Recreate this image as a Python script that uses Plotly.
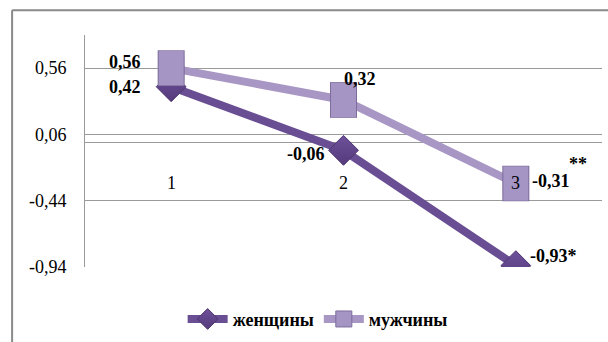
import plotly.graph_objects as go

categories = [1, 2, 3]
women = [0.42, -0.06, -0.93]
men = [0.56, 0.32, -0.31]
women_labels = ["0,42", "-0,06", "-0,93*"]
men_labels = ["0,56", "0,32", "-0,31"]
tick_vals = [-0.94, -0.44, 0.06, 0.56]
tick_text = ["-0,94", "-0,44", "0,06", "0,56"]
series_names = ["женщины", "мужчины"]

SERIF = "Liberation Serif"
C_W = "#6a4e93"
C_M = "#a897c4"

fig = go.Figure()
fig.add_trace(go.Scatter(
    x=categories, y=women, name=series_names[0], mode="lines+markers",
    line=dict(color=C_W, width=8),
    marker=dict(symbol="diamond", size=23, color="#6e519a",
                gradient=dict(type="vertical", color="#553a7c"),
                line=dict(color="#4e3670", width=1)),
))
fig.add_trace(go.Scatter(
    x=categories, y=men, name=series_names[1], mode="lines+markers",
    line=dict(color=C_M, width=8),
    marker=dict(symbol="square", size=25, color="#a595c4",
                line=dict(color="#7d6c9c", width=1)),
))
# tall rectangular body of the square markers (drawn as thick vertical strokes)
fig.add_trace(go.Scatter(
    x=categories, y=men, mode="markers", showlegend=False, hoverinfo="skip",
    marker=dict(symbol="line-ns", size=25.5, color="#7d6c9c",
                line=dict(color="#7d6c9c", width=27)),
))
fig.add_trace(go.Scatter(
    x=categories, y=men, mode="markers", showlegend=False, hoverinfo="skip",
    marker=dict(symbol="line-ns", size=24.5, color="#a595c4",
                line=dict(color="#a595c4", width=25)),
))

ann = []
lab_font = dict(family=SERIF, size=18, color="black", weight="bold")
for c in categories:
    ann.append(dict(x=c, y=0, xref="x", yref="y", text=str(c), showarrow=False,
                    yshift=-41, font=dict(family=SERIF, size=18, color="black")))
w_off = [(-46, 0), (-38, -4), (38, 10)]
m_off = [(-46, 6), (16, 21), (35, 2)]
for c, v, t, (dx, dy) in zip(categories, women, women_labels, w_off):
    ann.append(dict(x=c, y=v, xref="x", yref="y", text=t, showarrow=False,
                    xshift=dx, yshift=dy, font=lab_font))
for c, v, t, (dx, dy) in zip(categories, men, men_labels, m_off):
    ann.append(dict(x=c, y=v, xref="x", yref="y", text=t, showarrow=False,
                    xshift=dx, yshift=dy, font=lab_font))
ann.append(dict(x=categories[2], y=men[2], xref="x", yref="y", text="**", showarrow=False,
                xshift=62, yshift=19, font=lab_font))

shapes = [
    dict(type="line", xref="paper", yref="paper", x0=-0.141, x1=1.02, y0=1.107, y1=1.107,
         line=dict(color="#8a8a8a", width=2)),
    dict(type="line", xref="paper", yref="paper", x0=-0.141, x1=-0.141, y0=1.107, y1=-0.33,
         line=dict(color="#8a8a8a", width=2)),
]

fig.update_layout(
    width=608, height=342,
    margin=dict(l=85, r=6, t=35, b=74),
    paper_bgcolor="white", plot_bgcolor="white",
    showlegend=True,
    legend=dict(orientation="h", x=0.45, xanchor="center", y=-0.22, yanchor="middle",
                font=dict(family=SERIF, size=18, color="black", weight="bold"), itemwidth=40,
                bgcolor="rgba(0,0,0,0)"),
    xaxis=dict(range=[0.5, 3.5], showticklabels=False, showgrid=False, zeroline=False,
               showline=False, fixedrange=True),
    yaxis=dict(range=[-0.94, 0.81], tickvals=tick_vals, ticktext=tick_text,
               showgrid=True, gridcolor="#9a9a9a", gridwidth=1,
               zeroline=True, zerolinecolor="#9a9a9a", zerolinewidth=1,
               showline=True, linecolor="#9a9a9a", linewidth=1,
               ticks="", ticklabelstandoff=14,
               tickfont=dict(family=SERIF, size=18, color="black")),
    annotations=ann, shapes=shapes,
    font=dict(family=SERIF),
)
fig.write_html("out.html")
